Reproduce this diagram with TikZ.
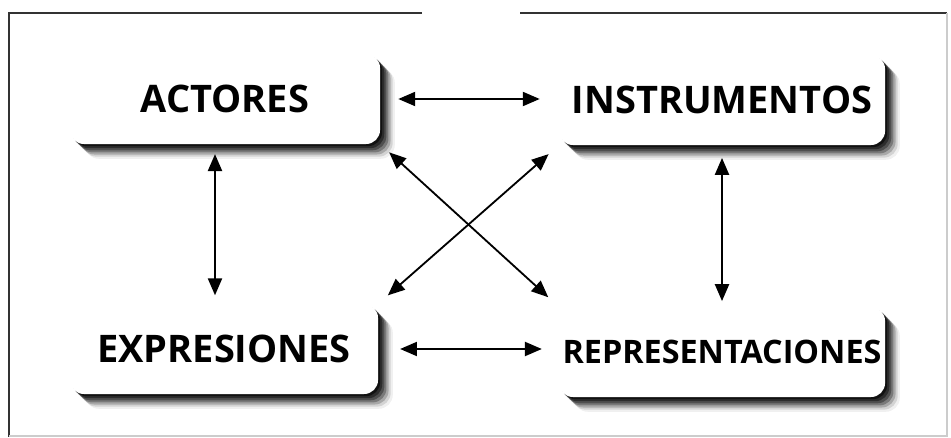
\documentclass[tikz,border=0pt]{standalone}
\usepackage{fontspec}
\setmainfont{Open Sans}
\usepackage{tikz}
\usetikzlibrary{arrows.meta,positioning,calc,shadows}

\begin{document}
\begin{tikzpicture}[
  x=0.025cm, y=-0.025cm,
  font=\bfseries\fontsize{27}{30}\selectfont,
  concept/.style={rounded corners=10pt, fill=white, draw=none, minimum height=2.25cm,
    inner sep=0pt,
    drop shadow={shadow xshift=1.5pt, shadow yshift=-1.5pt, opacity=.6, fill=black},
    drop shadow={shadow xshift=3pt, shadow yshift=-3pt, opacity=.45, fill=black},
    drop shadow={shadow xshift=4.5pt, shadow yshift=-4.5pt, opacity=.35, fill=black},
    drop shadow={shadow xshift=6pt, shadow yshift=-6pt, opacity=.28, fill=black},
    drop shadow={shadow xshift=7.5pt, shadow yshift=-7.5pt, opacity=.2, fill=black},
    drop shadow={shadow xshift=9pt, shadow yshift=-9pt, opacity=.12, fill=black},
    drop shadow={shadow xshift=10.5pt, shadow yshift=-10.5pt, opacity=.06, fill=black}},
  link/.style={{Triangle[length=12pt,width=10pt]}-{Triangle[length=12pt,width=10pt]}, line width=1.3pt},
  frame/.style={line width=1pt, draw=black!80}
]
\useasboundingbox (0,0) rectangle (951,438);

% ================= Frame =================
\draw[frame] (422,13) -- (9,13) -- (9,437);
\draw[frame] (520,13) -- (947,13);
\draw[frame, draw=black!20] (9,436) -- (947,436) -- (947,13);

% ================= Boxes =================
\node[concept, minimum width=7.75cm] (actores) at (225,99) {ACTORES};
\node[concept, minimum width=8.15cm] (instrumentos) at (722,100) {INSTRUMENTOS};
\node[concept, minimum width=7.7cm] (expresiones) at (224,349) {EXPRESIONES};
\node[concept, minimum width=8.15cm, font=\bfseries\fontsize{23}{26}\selectfont]
  (representaciones) at (722,352) {REPRESENTACIONES};

% ================= Links =================
\draw[link, shorten <=12.8pt, shorten >=13.5pt] (actores.east) -- (actores.east -| instrumentos.west);
\draw[link, shorten <=15.5pt, shorten >=12pt] (expresiones.east) -- (expresiones.east -| representaciones.west);
\draw[link, shorten <=7pt, shorten >=6pt] ([xshift=-0.25cm]actores.south) -- ([xshift=-0.25cm]actores.south |- expresiones.north);
\draw[link, shorten <=9pt, shorten >=4pt] (instrumentos.south) -- (representaciones.north);
\draw[link, shorten <=8.5pt, shorten >=10pt] (actores.south east) -- (representaciones.north west);
\draw[link, shorten <=9.5pt, shorten >=9pt] (instrumentos.south west) -- (expresiones.north east);

\end{tikzpicture}
\end{document}
